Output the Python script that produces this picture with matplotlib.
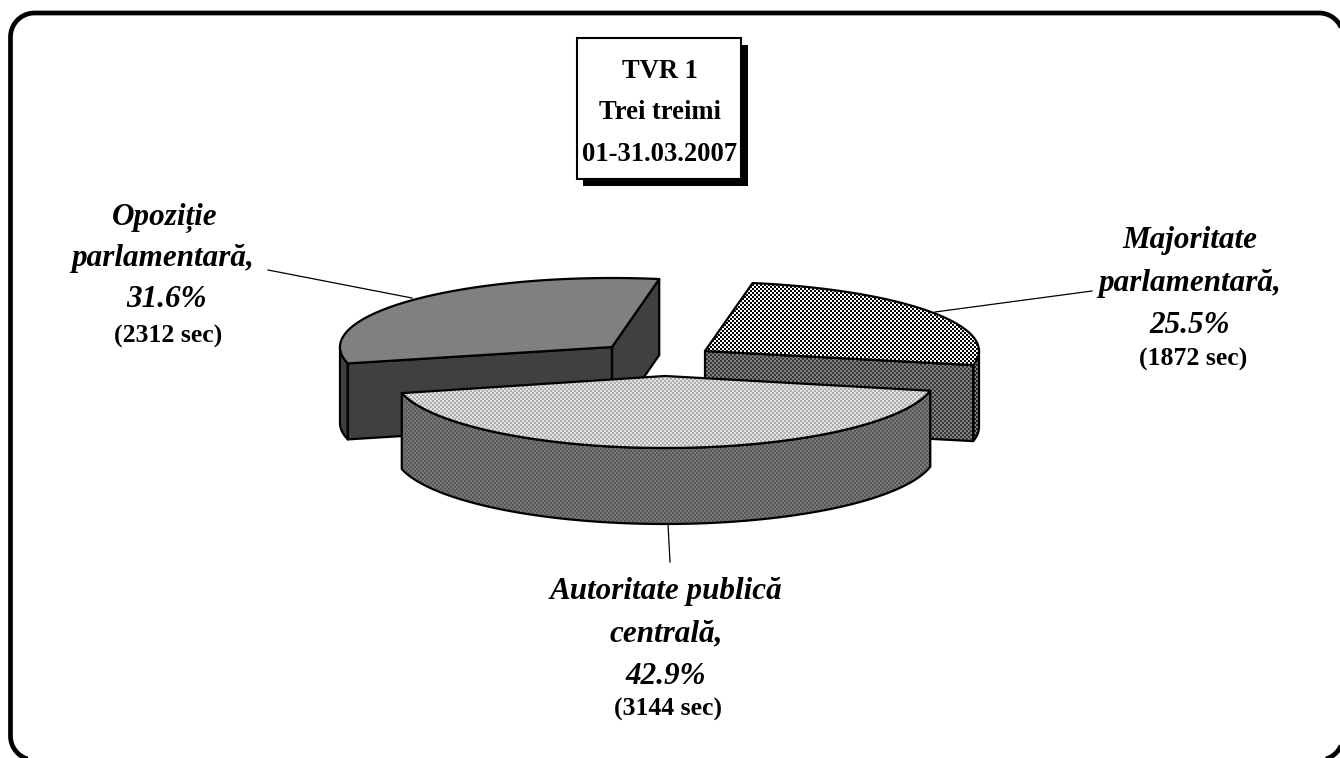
import numpy as np
import matplotlib
matplotlib.use("Agg")
import matplotlib.pyplot as plt
from matplotlib.patches import Polygon, Rectangle

plt.rcParams['font.family'] = ['Liberation Serif', 'DejaVu Sans']

slices = ["Majoritate parlamentară", "Autoritate publică centrală", "Opoziție parlamentară"]
shares = [25.5, 42.9, 31.6]
seconds = [1872, 3144, 2312]
title_lines = ["TVR 1", "Trei treimi", "01-31.03.2007"]

W, H = 1340, 758
START = 80.0      # angle where the first slice begins, going clockwise
DEPTH = 76

fig = plt.figure(figsize=(W / 100, H / 100), dpi=100)
ax = fig.add_axes([0, 0, 1, 1])
ax.axis("off")


def checker(c1, c2, cell=2):
    yy, xx = np.mgrid[0:H, 0:W]
    mask = ((xx // cell + yy // cell) % 2)[..., None]
    a = np.array(matplotlib.colors.to_rgb(c1))
    b = np.array(matplotlib.colors.to_rgb(c2))
    return a * mask + b * (1 - mask)


def fill(pts, fc, z, fc2=None, lw=1.6):
    ax.add_patch(Polygon(pts, closed=True, fc="none", ec="black", lw=lw, zorder=z + 0.1, joinstyle="round"))
    if fc2 is None:
        ax.add_patch(Polygon(pts, closed=True, fc=fc, ec="none", zorder=z))
    else:
        img = ax.imshow(checker(fc, fc2), extent=[0, W, H, 0], interpolation="nearest", aspect="auto", zorder=z)
        img.set_clip_path(Polygon(pts, closed=True, transform=ax.transData))


def arc(cx, cy, rx, ry, t0, t1):
    t = np.radians(np.linspace(t0, t1, 90))
    return np.column_stack([cx + rx * np.cos(t), cy - ry * np.sin(t)])


def wall(cx, cy, rx, ry, t0, t1):
    top = arc(cx, cy, rx, ry, t0, t1)
    return np.vstack([top, (top + [0, DEPTH])[::-1]])


# slice angles come from the shares, clockwise
ends = START - np.cumsum(shares) * 3.6
starts = np.r_[START, ends[:-1]]

# majority, exploded to the right and back
cx, cy, rx, ry = 705, 351, 274, 69
t0, t1 = starts[0], ends[0]
edge = arc(cx, cy, rx, ry, t1, t1)[0]
fill(wall(cx, cy, rx, ry, t1, 0), "#808080", 2, "#202020")
fill(np.array([[cx, cy], edge, edge + [0, DEPTH], [cx, cy + DEPTH]]), "#808080", 2, "#383838")
fill(np.vstack([[[cx, cy]], arc(cx, cy, rx, ry, t1, t0)]), "white", 3, "black")

# opposition, exploded to the left and back
cx, cy, rx, ry = 612, 347, 272, 69
t0, t1 = starts[2] + 360, ends[2] + 360
a = arc(cx, cy, rx, ry, t0, t0)[0]
b = arc(cx, cy, rx, ry, t1, t1)[0]
fill(np.array([[cx, cy], b, b + [0, DEPTH], [cx, cy + DEPTH]]), "#404040", 4)
fill(wall(cx, cy, rx, ry, 180, t0), "#404040", 4)
fill(np.array([[cx, cy], a, a + [0, DEPTH], [cx, cy + DEPTH]]), "#404040", 4)
fill(np.vstack([[[cx, cy]], arc(cx, cy, rx, ry, t0, t1)]), "#808080", 5)

# central authority, in front of the other two
cx, cy, rx, ry = 665, 376, 271, 72
t0, t1 = starts[1], ends[1]
fill(wall(cx, cy, rx, ry, t0, t1), "#787878", 6, "#585858")
fill(np.vstack([[[cx, cy]], arc(cx, cy, rx, ry, t1, t0)]), "#e2e2e2", 7, "#aeaeae")

ax.plot([268, 412], [270, 298], color="black", lw=0.9, zorder=1)
ax.plot([1092, 935], [291, 312], color="black", lw=0.9, zorder=8)
ax.plot([668, 670], [524, 562], color="black", lw=0.9, zorder=1)

# labels
big = dict(fontsize=22.4, fontweight="bold", style="italic", ha="center", va="baseline", zorder=9)
small = dict(fontsize=18.5, fontweight="bold", ha="center", va="baseline", zorder=9)

pct = ["%.1f%%" % s for s in shares]
sec = ["(%d sec)" % s for s in seconds]

ax.text(1190, 248, "Majoritate", **big)
ax.text(1190, 291, "parlamentară,", **big)
ax.text(1190, 333, pct[0], **big)
ax.text(1193, 366, sec[0], **small)

ax.text(666, 599, "Autoritate publică", **big)
ax.text(666, 641, "centrală,", **big)
ax.text(666, 684, pct[1], **big)
ax.text(668, 716, sec[1], **small)

ax.text(165, 225, "Opoziție", **big)
ax.text(163, 266, "parlamentară,", **big)
ax.text(166, 307, pct[2], **big)
ax.text(168, 343, sec[2], **small)

# title box with its shadow
ax.add_patch(Rectangle((583, 45), 165, 141, fc="black", ec="none", zorder=10))
ax.add_patch(Rectangle((577, 38), 164, 141, fc="white", ec="black", lw=1.5, zorder=11))
for line, y in zip(title_lines, [78, 119, 161]):
    ax.text(660, y, line, fontsize=19.2, fontweight="bold", ha="center", va="baseline", zorder=12)

# rounded frame, cut by the picture edge on the right and at the bottom
x0, y0, x1, y1, r = 10.5, 13, 1343, 760, 24
frame = np.vstack([
    arc(x0 + r, y0 + r, r, r, 180, 90),
    arc(x1 - r, y0 + r, r, r, 90, 0),
    arc(x1 - r, y1 - r, r, r, 0, -90),
    arc(x0 + r, y1 - r, r, r, -90, -180),
])
ax.add_patch(Polygon(frame, closed=True, fc="none", ec="black", lw=3.4, zorder=13))

ax.set_xlim(0, W)
ax.set_ylim(H, 0)
fig.savefig("out.png", dpi=100)
